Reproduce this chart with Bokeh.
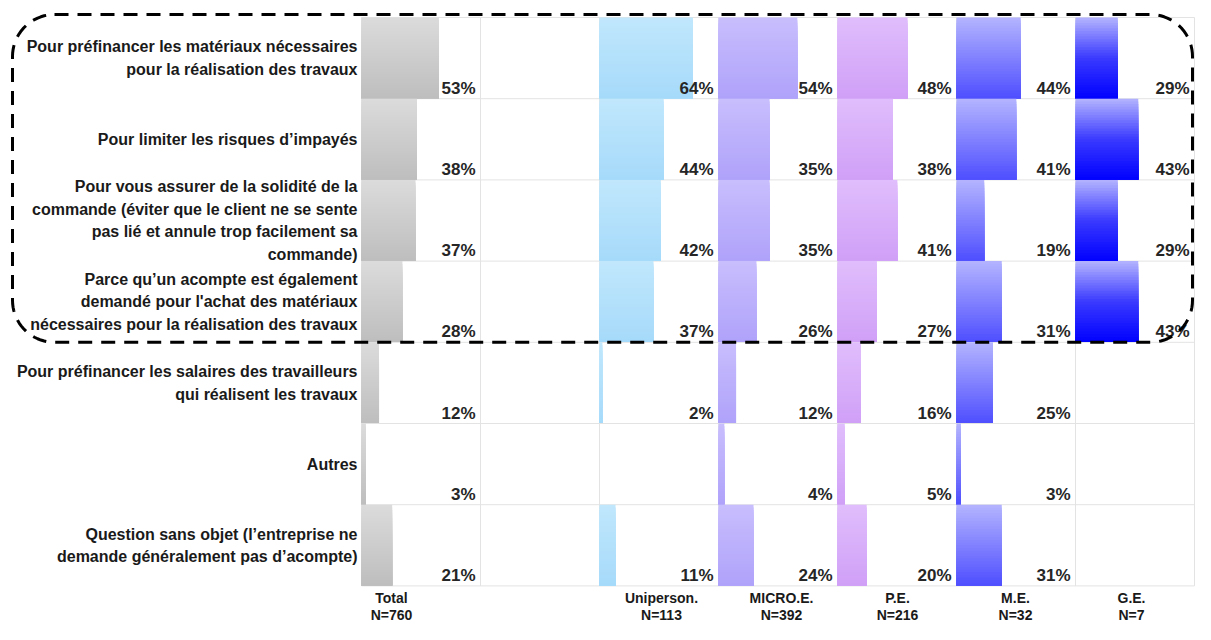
import numpy as np
from bokeh.plotting import figure
from bokeh.models import Range1d
from bokeh.core.properties import value
from bokeh.embed import file_html
from bokeh.resources import INLINE

# ---------------- data ----------------
categories = [
    "Pour préfinancer les matériaux nécessaires\npour la réalisation des travaux",
    "Pour limiter les risques d’impayés",
    "Pour vous assurer de la solidité de la\ncommande (éviter que le client ne se sente\npas lié et annule trop facilement sa\ncommande)",
    "Parce qu’un acompte est également\ndemandé pour l'achat des matériaux\nnécessaires pour la réalisation des travaux",
    "Pour préfinancer les salaires des travailleurs\nqui réalisent les travaux",
    "Autres",
    "Question sans objet (l’entreprise ne\ndemande généralement pas d’acompte)",
]
segments = ["Total", "", "Uniperson.", "MICRO.E.", "P.E.", "M.E.", "G.E."]
bases = ["N=760", "", "N=113", "N=392", "N=216", "N=32", "N=7"]

total = [53, 38, 37, 28, 12, 3, 21]
uniperson = [64, 44, 42, 37, 2, None, 11]
micro = [54, 35, 35, 26, 12, 4, 24]
pe = [48, 38, 41, 27, 16, 5, 20]
me = [44, 41, 19, 31, 25, 3, 31]
ge = [29, 43, 29, 43, None, None, None]
series = [total, None, uniperson, micro, pe, me, ge]

# ---------------- styles / layout ----------------
gradients = [
    ["#dcdcdc", "#bdbdbd"],
    None,
    ["#c0e7fc", "#a6dafa"],
    ["#c8befd", "#afa2fa"],
    ["#e0bdfc", "#d0a0f7"],
    ["#b4b4ff", "#4e4eff"],
    ["#b4b4ff", "#3a3aff", "#0000ff"],
]
label_offsets_px = [30, 0, 62, 63, 60, 59, 56]

W, H = 1195, 624
PANEL_PX = 119.0
KX = 1.46                      # pixels per percentage point
PANEL_UNITS = PANEL_PX / KX
PLOT_LEFT_PX = 361.0
ROW_PX = 81.2
TOP_PX = 17.0
KY = ROW_PX
x0 = -PLOT_LEFT_PX / KX
x1 = x0 + W / KX
y1 = TOP_PX / KY
y0 = y1 - H / KY
n_rows = len(categories)
n_panels = len(segments)


def dx(px):
    return x0 + px / KX


def dy(py):
    return y1 - py / KY


def hex2rgb(h):
    h = h.lstrip("#")
    return np.array([int(h[i:i + 2], 16) for i in (0, 2, 4)], dtype=float)


def grad_color(stops, t):
    n = len(stops) - 1
    pos = t * n
    i = min(int(pos), n - 1)
    f = pos - i
    c = hex2rgb(stops[i]) * (1 - f) + hex2rgb(stops[i + 1]) * f
    return "#%02x%02x%02x" % tuple(int(round(v)) for v in c)


p = figure(width=W, height=H, x_range=Range1d(x0, x1), y_range=Range1d(y0, y1),
           x_axis_type=None, y_axis_type=None, toolbar_location=None,
           output_backend="svg", min_border=0)
p.outline_line_color = None
p.background_fill_color = "white"
p.border_fill_color = "white"

# grid lines
for i in range(n_panels + 1):
    p.line([i * PANEL_UNITS] * 2, [0, -n_rows], line_color="#e3e3e3", line_width=1)
for r in range(n_rows + 1):
    p.line([0, n_panels * PANEL_UNITS], [-r, -r], line_color="#e3e3e3", line_width=1)

# gradient bars (layered strips, each reaching the bar bottom, so no gaps)
N = 30
L, R, T, B, C = [], [], [], [], []
for pi, vals in enumerate(series):
    if vals is None:
        continue
    start = pi * PANEL_UNITS
    for ri, v in enumerate(vals):
        if v is None:
            continue
        top, bot = -ri, -(ri + 1)
        for j in range(N):
            L.append(start)
            R.append(start + v)
            T.append(top - j / N)
            B.append(bot + 0.5 / KY)
            C.append(grad_color(gradients[pi], (j + 0.5) / N))
p.quad(left=L, right=R, top=T, bottom=B, fill_color=C, line_color=None)

# percentage labels
tx, ty, tt = [], [], []
for pi, vals in enumerate(series):
    if vals is None:
        continue
    for ri, v in enumerate(vals):
        if v is None:
            continue
        tx.append((pi + 1) * PANEL_UNITS - 5 / KX)
        ty.append(-(ri + 1) + 1 / KY)
        tt.append(f"{v}%")
p.text(x=tx, y=ty, text=tt, text_align="right", text_baseline="bottom",
       text_font=value("Liberation Sans"), text_font_style="bold",
       text_font_size="17px", text_color="#262626")

# row labels
p.text(x=[dx(PLOT_LEFT_PX - 4)] * n_rows, y=[-(i + 0.5) for i in range(n_rows)],
       text=categories, text_align="right", text_baseline="middle",
       text_font=value("Liberation Sans"), text_font_style="bold",
       text_font_size="16px", text_color="#1a1a1a", text_line_height=1.32)

# column labels
cx, cy, ct = [], [], []
for pi, (s, b) in enumerate(zip(segments, bases)):
    if not s:
        continue
    cx.append(pi * PANEL_UNITS + label_offsets_px[pi] / KX)
    cy.append(-n_rows - 4 / KY)
    ct.append(s + "\n" + b)
p.text(x=cx, y=cy, text=ct, text_align="center", text_baseline="top",
       text_font=value("Liberation Sans"), text_font_style="bold",
       text_font_size="14px", text_color="#1a1a1a", text_line_height=1.1)

# dashed rounded highlight box around the first four rows
left_px, right_px, top_px = 12.0, 1192.0, 14.0
bottom_px = TOP_PX + 4 * ROW_PX
rad = 42.0
pts = []


def arc(cx_, cy_, a0, a1):
    for a in np.linspace(np.radians(a0), np.radians(a1), 20):
        pts.append((cx_ + rad * np.cos(a), cy_ + rad * np.sin(a)))


pts.append((left_px + rad, top_px))
arc(right_px - rad, top_px + rad, -90, 0)
arc(right_px - rad, bottom_px - rad, 0, 90)
arc(left_px + rad, bottom_px - rad, 90, 180)
arc(left_px + rad, top_px + rad, 180, 270)
bx = [dx(a) for a, _ in pts]
by = [dy(b) for _, b in pts]
p.line(bx, by, line_color="black", line_width=3, line_dash="14 9")

open("out.html", "w").write(file_html(p, INLINE))
